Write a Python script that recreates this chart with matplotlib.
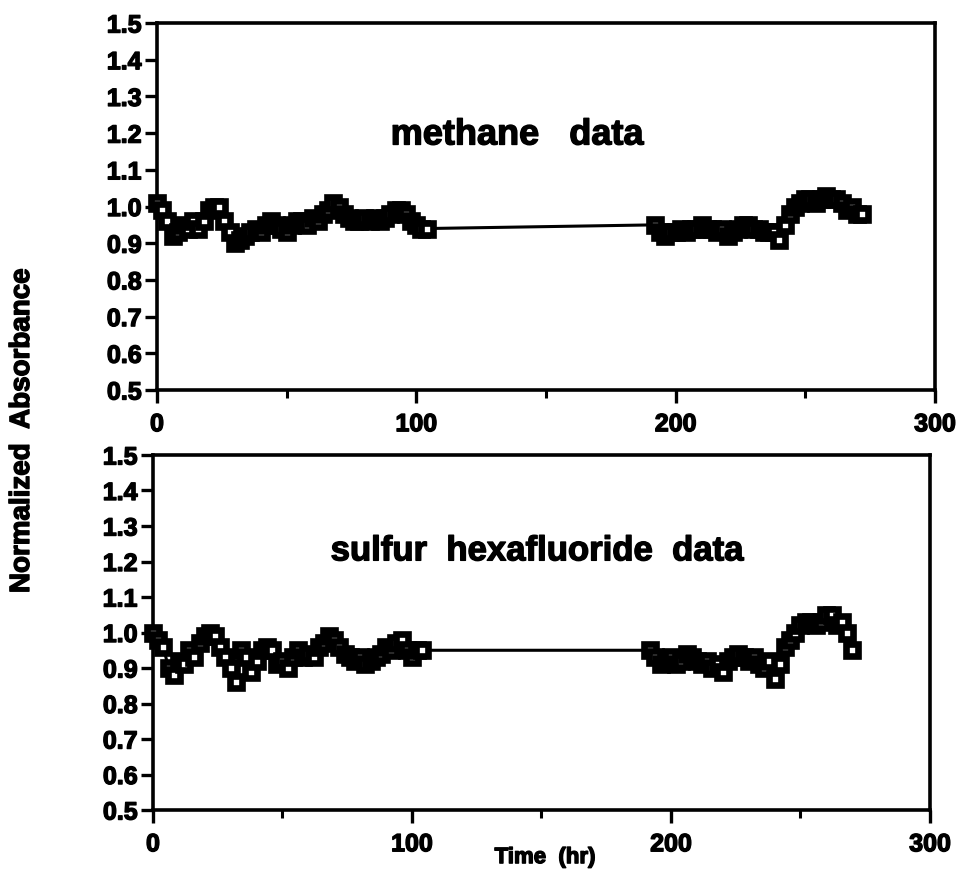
import matplotlib
matplotlib.use("Agg")
import matplotlib.pyplot as plt
import matplotlib.patheffects as pe
from matplotlib.ticker import MultipleLocator

plt.rcParams['font.family'] = ['Liberation Sans', 'DejaVu Sans']
plt.rcParams['font.weight'] = 'bold'

# Elapsed time (hr) and normalized absorbance, methane
methane_t1 = [0, 2, 4, 6, 8, 10, 12, 14, 16, 18, 20, 22, 24, 26, 28, 30, 32, 34,
              36, 38, 40, 42, 44, 46, 48, 50, 52, 54, 56, 58, 60, 62, 64, 66, 68,
              70, 72, 74, 76, 78, 80, 82, 84, 86, 88, 90, 92, 94, 96, 98, 100, 102, 104]
methane_v1 = [1.01, 0.99, 0.96, 0.92, 0.93, 0.95, 0.94, 0.96, 0.94, 0.96, 0.99, 1.00,
              1.00, 0.96, 0.93, 0.90, 0.91, 0.92, 0.93, 0.94, 0.93, 0.95, 0.96, 0.95,
              0.94, 0.93, 0.95, 0.96, 0.96, 0.95, 0.97, 0.96, 0.98, 0.99, 1.01, 1.00,
              0.98, 0.97, 0.96, 0.96, 0.97, 0.96, 0.97, 0.96, 0.97, 0.98, 0.99, 0.99,
              0.98, 0.96, 0.95, 0.94, 0.94]
methane_t2 = [192, 194, 196, 198, 200, 202, 204, 206, 208, 210, 212, 214, 216, 218,
              220, 222, 224, 226, 228, 230, 232, 234, 236, 238, 240, 242, 244, 246,
              248, 250, 252, 254, 256, 258, 260, 262, 264, 266, 268, 270, 272]
methane_v2 = [0.95, 0.93, 0.92, 0.93, 0.93, 0.94, 0.93, 0.94, 0.94, 0.95, 0.94, 0.94,
              0.93, 0.94, 0.92, 0.93, 0.94, 0.95, 0.95, 0.94, 0.94, 0.93, 0.93, 0.93,
              0.91, 0.95, 0.98, 1.00, 1.01, 1.02, 1.02, 1.01, 1.02, 1.03, 1.02, 1.02,
              1.01, 0.99, 1.00, 0.98, 0.98]

# Elapsed time (hr) and normalized absorbance, sulfur hexafluoride
sf6_t1 = [0, 2, 4, 6, 8, 10, 12, 14, 16, 18, 20, 22, 24, 26, 28, 30, 32, 34,
          36, 38, 40, 42, 44, 46, 48, 50, 52, 54, 56, 58, 60, 62, 64, 66, 68,
          70, 72, 74, 76, 78, 80, 82, 84, 86, 88, 90, 92, 94, 96, 98, 100, 102, 104]
sf6_v1 = [1.00, 0.98, 0.96, 0.90, 0.88, 0.92, 0.91, 0.95, 0.93, 0.97, 0.99, 1.00,
          0.99, 0.96, 0.93, 0.90, 0.86, 0.95, 0.93, 0.89, 0.92, 0.95, 0.96, 0.95,
          0.91, 0.92, 0.90, 0.93, 0.95, 0.93, 0.94, 0.93, 0.96, 0.97, 0.99, 0.98,
          0.96, 0.94, 0.93, 0.92, 0.93, 0.91, 0.92, 0.93, 0.94, 0.96, 0.95, 0.97,
          0.98, 0.95, 0.93, 0.95, 0.95]
sf6_t2 = [192, 194, 196, 198, 200, 202, 204, 206, 208, 210, 212, 214, 216, 218,
          220, 222, 224, 226, 228, 230, 232, 234, 236, 238, 240, 242, 244, 246,
          248, 250, 252, 254, 256, 258, 260, 262, 264, 266, 268, 270]
sf6_v2 = [0.95, 0.93, 0.91, 0.92, 0.93, 0.91, 0.92, 0.94, 0.93, 0.92, 0.91, 0.92,
          0.90, 0.91, 0.89, 0.92, 0.93, 0.94, 0.93, 0.92, 0.93, 0.91, 0.90, 0.92,
          0.87, 0.91, 0.96, 0.98, 1.00, 1.02, 1.03, 1.03, 1.02, 1.03, 1.05, 1.05,
          1.02, 1.03, 1.00, 0.95]

panel_titles = ["methane   data", "sulfur  hexafluoride  data"]
y_ticks = [0.5, 0.6, 0.7, 0.8, 0.9, 1.0, 1.1, 1.2, 1.3, 1.4, 1.5]
x_ticks = [0, 100, 200, 300]

heavy = [pe.withStroke(linewidth=1.0, foreground='black')]

fig = plt.figure(figsize=(9.56, 8.76), dpi=100)
ax_top = fig.add_axes([0.1642, 0.5548, 0.8138, 0.4189])
ax_bot = fig.add_axes([0.1600, 0.0753, 0.8128, 0.4053])

series = [
    (ax_top, methane_t1 + methane_t2, methane_v1 + methane_v2, panel_titles[0],
     (0.463, 0.695), 26),
    (ax_bot, sf6_t1 + sf6_t2, sf6_v1 + sf6_v2, panel_titles[1], (0.494, 0.73), 25),
]

for ax, t, v, title, tpos, tsize in series:
    # thick-edged open squares joined by a solid line
    ax.plot(t, v, color='black', lw=2.2, marker='s', ms=8.2,
            mfc='white', mec='black', mew=4.8, clip_on=False, zorder=3)
    ax.set_xlim(0, 300)
    ax.set_ylim(0.5, 1.5)
    ax.set_yticks(y_ticks)
    ax.set_yticklabels([f"{y:.1f}" for y in y_ticks])
    ax.set_xticks(x_ticks)
    ax.set_xticklabels([str(x) for x in x_ticks])
    ax.xaxis.set_minor_locator(MultipleLocator(50))
    for s in ax.spines.values():
        s.set_linewidth(2.6)
    ax.tick_params(axis='y', direction='out', length=9, width=2.4, labelsize=18, pad=2)
    ax.tick_params(axis='x', which='major', direction='out', length=9, width=2.4,
                   labelsize=18, pad=7)
    ax.tick_params(axis='x', which='minor', direction='out', length=6, width=2.2)
    for lab in ax.get_xticklabels() + ax.get_yticklabels():
        lab.set_fontweight('bold')
        lab.set_path_effects(heavy)
    ax.text(tpos[0], tpos[1], title, transform=ax.transAxes, ha='center', va='center',
            fontsize=tsize, fontweight='bold', path_effects=heavy)

fig.text(0.023, 0.508, "Normalized  Absorbance", rotation=90, ha='center', va='center',
         fontsize=20, fontweight='bold', path_effects=heavy)
fig.text(0.570, 0.021, "Time  (hr)", ha='center', va='center', fontsize=16,
         fontweight='bold', path_effects=heavy)

fig.savefig("out.png", dpi=100)
